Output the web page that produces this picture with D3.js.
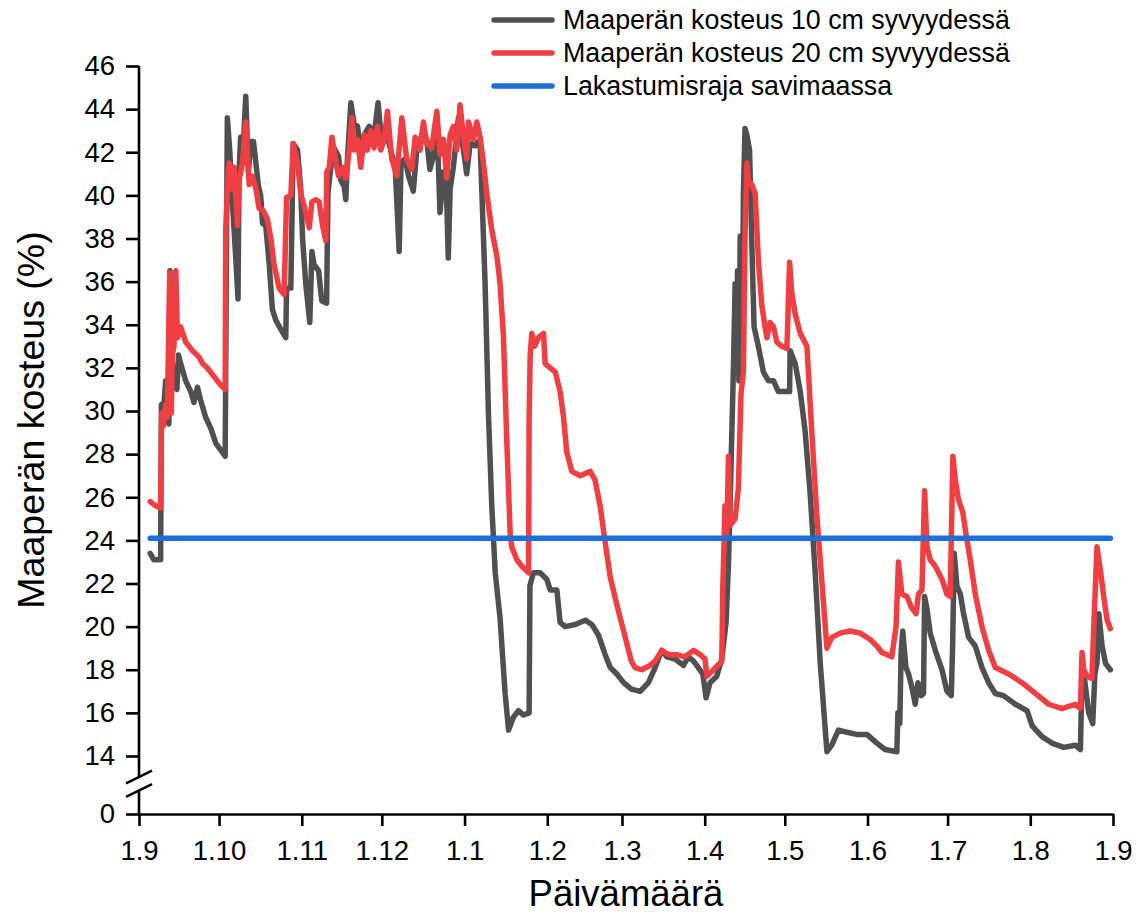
<!DOCTYPE html>
<html lang="fi">
<head>
<meta charset="utf-8">
<script src="https://cdn.jsdelivr.net/npm/d3@7"></script>
<style>
  html, body { margin: 0; padding: 0; background: #fff; }
  svg { display: block; font-family: "Liberation Sans", Arial, Helvetica, sans-serif; }
</style>
</head>
<body>
<svg id="chart" width="1147" height="921"></svg>
<script>
// Measurement period: 1.9.2022 – 1.9.2023. Times are given as days from the start.
const periodStart = new Date(2022, 8, 1);
const periodEnd = new Date(2023, 8, 1);

// Soil moisture at 10 cm depth (%)
const depth10Days = [4.2,5.6,8.1,8.4,9.4,10,10.6,11.2,11.6,12.1,12.5,13.5,14.2,14.8,15.6,17.5,19.4,20.6,21.9,23.1,25,26.9,28.8,30.6,32.3,32.6,33.1,34,35,36.3,37.1,37.5,38.1,39,40,41,41.9,42.9,43.8,44.8,45.6,46.3,47.5,48.8,50,51.3,53.1,55,55.3,56.9,57.8,59.4,60.6,61.3,62.5,64,64.8,65.6,67.3,68.5,70.3,70.8,71.9,73.1,74.8,75.6,76.9,77.5,78.1,79.4,80.6,81.9,83.1,84.4,86.3,88.1,89.6,90.6,92.5,93.5,96,97.5,98.2,99.7,101,102.8,104.1,106,107.8,109,110.3,111.6,112.8,114.1,115.1,115.9,116.6,117.8,119.7,121.6,122.8,124.1,126,127.8,128.5,129.7,131,132.2,133.5,135.3,137.2,138.5,140.3,142.2,144.1,146.2,146.5,147.8,150.3,152.8,154.1,156.6,157.8,159.7,163.5,167.2,169.7,172.2,174.7,176.6,179.1,181.6,184.5,187.8,190.9,193.4,195.9,197.8,200.9,204,205.9,207.8,209.6,211.3,212.5,214,216.5,218.4,220,220.9,221.5,222.1,222.8,223.4,223.8,224.3,224.8,225.3,225.9,226.5,227.1,227.8,228.8,229.6,230.5,232.1,234,235.9,237.8,239.6,242.1,243.8,244,245.9,247.8,249.6,251.5,253.4,255.3,257.8,259.6,262.1,265.3,269,272.8,276.5,279.6,284,284.4,285.1,285.6,286.2,287.4,288.4,289.6,290.9,291.9,293.1,294,294.4,295.3,296.5,298.4,300.9,302.8,304.4,304.9,305.5,306.5,307.8,309,310.9,313.4,315.9,318.4,320.9,324,328.4,332.8,334.7,338.4,342.1,346.5,350.9,352.8,353.4,354.4,355.9,357.4,358.2,359,359.7,360.9,362.2,364];
const depth10Values = [23.4,23.1,23.1,30.3,30.4,31.4,29.6,29.4,36.5,32.6,32.2,31.1,31.0,32.6,32.2,31.4,30.9,30.4,31.1,30.5,29.7,29.2,28.5,28.2,27.9,33.9,43.6,42.1,39.7,37.0,35.2,41.1,42.7,42.1,44.6,41.1,42.5,42.5,41.5,40.4,40.0,38.7,38.6,36.8,34.7,34.2,33.8,33.4,35.7,35.7,42.4,42.1,40.3,38.0,35.9,34.1,37.4,36.8,36.5,35.1,35.0,40.1,41.3,42.2,41.8,40.7,40.4,39.8,41.7,44.3,43.3,43.2,41.9,42.8,43.2,42.8,44.3,42.9,42.6,42.5,41.3,37.4,41.5,41.7,40.9,40.2,42.1,42.8,42.6,41.2,41.8,43.6,39.2,41.1,40.7,37.1,40.3,41.3,43.6,42.1,41.0,42.4,42.3,42.6,40.1,35.9,29.7,25.6,22.5,20.4,16.9,15.2,15.8,16.1,15.9,16.0,21.9,22.5,22.5,22.2,21.7,21.7,20.2,20.0,20.1,20.3,20.1,19.6,18.7,18.1,17.8,17.4,17.1,17.0,17.4,18.1,18.9,18.6,18.5,18.2,18.6,18.4,18.1,17.8,16.7,17.4,17.7,18.5,20.2,22.9,25.6,28.7,32.2,35.9,31.8,36.5,31.4,38.1,31.8,40.1,43.1,42.8,42.1,38.0,33.9,33.0,31.8,31.4,31.4,30.9,30.9,30.9,32.8,32.2,30.9,29.1,26.2,22.5,18.3,14.2,14.5,15.2,15.1,15.0,15.0,14.6,14.3,14.2,16.0,15.5,18.8,19.8,18.1,17.8,17.2,16.4,17.4,16.8,16.9,21.4,20.8,19.7,18.9,18.0,17.0,16.8,19.1,23.4,21.9,21.5,20.6,19.5,19.1,18.1,17.4,16.9,16.8,16.4,16.1,15.4,14.9,14.6,14.4,14.5,14.3,18.0,17.5,16.0,15.5,17.8,18.3,20.6,19.1,18.3,18.0];

// Soil moisture at 20 cm depth (%)
const depth20Days = [4.2,6.3,8.1,8.5,9.1,10,10.6,11.5,12.1,12.5,13.1,13.8,14.4,15.6,17.5,20,22.5,23.8,25.6,28.1,30.6,32.3,32.5,33.1,33.8,34.4,35.6,36.9,37.5,38.8,40,41.3,42.5,43.8,45,46.5,48.1,49.4,50.6,52.5,54.4,55.3,56.9,57.8,59.4,60.6,61.9,63.8,64.8,66.3,67.5,68.8,70,70.4,71.3,72.3,73.8,74.8,76.3,77.5,78.8,79.8,80.6,81.9,83.1,84.4,85.6,86.9,88.1,89.4,90.6,91.9,93.1,94.7,96.6,98.5,100.3,102.2,103.5,105.3,106.6,107.8,109.7,111.6,112.8,114.1,115.3,116.6,117.8,119.1,120.3,121.6,122.8,123.5,125.3,126.6,127.8,129.1,130.3,132.2,134.1,135.3,136.6,137.8,139.1,139.7,141.6,143.5,146,146.2,146.6,147.2,148.2,149.7,151.6,152.2,154.1,156,157.8,159.1,160.3,162.2,165.3,169.1,170.9,172.8,174.7,176.6,179.1,181.6,184.5,185.9,188.4,191.5,193.4,195.9,198.4,201.5,204.6,207.8,210.3,212.1,212.8,215.3,218.4,218.8,219.6,220.3,220.9,221.5,223.4,224.6,225.6,226.5,227.1,227.8,228.4,229.6,230.9,232.1,233.4,234.6,235.3,236.5,237.8,239,240.9,242.8,243.8,244.6,245.9,247.8,250.3,252.1,254,255.9,257.8,259.6,262.8,266.5,270.3,274,276.5,278.4,282.1,283.7,284.6,285.9,287.8,289.4,291.2,292.1,293.4,294.4,295.3,296.5,298.4,300.9,302.8,304,304.4,305,305.9,307.1,308.7,309.9,311.5,313.4,315.9,318.4,320.9,325.9,330.9,335.9,340.9,345.9,350.9,352.8,353.4,354,355.3,357.1,357.8,359,360.3,361.5,362.8,364];
const depth20Values = [25.8,25.6,25.5,29.9,29.3,30.3,29.7,36.4,29.9,32.6,33.0,36.5,33.4,33.9,33.2,32.8,32.5,32.2,32.0,31.6,31.2,31.0,38.4,40.3,41.5,40.3,41.3,38.6,40.7,41.5,43.4,40.5,40.9,40.3,39.4,39.3,38.9,38.0,36.8,35.7,35.4,39.9,40.0,42.4,41.5,40.1,39.5,38.5,39.7,39.8,39.7,38.6,37.9,41.1,41.3,42.7,41.5,40.9,41.3,40.8,42.1,43.6,42.1,42.6,41.3,42.8,42.1,43.0,42.2,43.2,42.1,42.6,43.9,41.7,40.9,43.6,41.7,41.2,42.7,42.1,43.4,42.4,42.2,43.9,41.9,42.6,40.8,42.8,43.2,42.1,44.2,42.7,41.7,43.4,42.6,43.4,42.7,41.5,40.1,38.4,37.2,35.9,33.4,28.7,24.3,23.7,23.1,22.8,22.5,29.7,32.6,33.6,33.0,33.4,33.6,32.2,32.0,31.8,30.9,29.7,28.1,27.2,27.0,27.2,26.8,25.6,23.9,22.3,21.0,19.8,18.4,18.1,18.0,18.2,18.4,18.9,18.7,18.7,18.6,18.9,18.7,18.5,17.7,18.0,18.4,21.9,25.6,24.3,27.9,24.7,25.0,26.4,30.8,31.8,38.0,41.5,40.7,40.5,40.1,37.0,34.9,33.9,33.4,34.1,33.9,33.2,33.0,32.9,36.9,35.5,34.5,33.6,33.0,29.1,25.2,22.1,19.0,19.5,19.7,19.8,19.7,19.4,19.1,18.8,18.6,20.0,23.0,21.5,21.4,20.9,20.6,21.5,21.7,26.3,23.7,23.1,22.8,22.2,21.5,21.4,24.0,27.9,26.8,25.9,25.3,24.3,23.1,21.5,20.0,18.9,18.1,17.8,17.4,16.9,16.4,16.2,16.4,16.2,18.8,18.0,17.7,17.6,20.0,23.7,22.6,21.4,20.3,19.9];

// Wilting point in clay soil (%)
const wiltingDays = [4.2, 364];
const wiltingValues = [24.1, 24.1];

const yTickValues = d3.range(14, 47, 2);
const monthTicks = d3.timeMonth.range(periodStart, d3.timeDay.offset(periodEnd, 1));

const seriesNames = [
  "Maaperän kosteus 10 cm syvyydessä",
  "Maaperän kosteus 20 cm syvyydessä",
  "Lakastumisraja savimaassa"
];
const seriesColors = ["#505050", "#ef3f42", "#1f6fdb"];

// ---- layout ----
const svg = d3.select("#chart");
const plotLeft = 139, plotRight = 1113, plotTop = 66;
const plotBottom = 814;      // baseline of the broken axis (value 0)
const lowestShown = 14;

const x = d3.scaleTime().domain([periodStart, periodEnd]).range([plotLeft, plotRight]);
const y = d3.scaleLinear().domain([lowestShown, 46]).range([756, plotTop]);
const yZero = d3.scaleLinear().domain([0, 1]).range([plotBottom, plotBottom - 40]);

const toDate = d => new Date(periodStart.getTime() + d * 864e5);
const pairs = (days, vals) => days.map((d, i) => ({ date: toDate(d), value: vals[i] }));

const line = d3.line().x(p => x(p.date)).y(p => y(p.value));

const axisColor = "#000";
const axisWidth = 2.6;
const tickFont = 27.5;

// ---- y axis (upper part) ----
const yAxis = svg.append("g")
  .attr("transform", `translate(${plotLeft},0)`)
  .call(d3.axisLeft(y).tickValues(yTickValues).tickSize(13).tickPadding(11).tickSizeOuter(0));
yAxis.select(".domain").remove();

// ---- y axis zero tick ----
const yAxis0 = svg.append("g")
  .attr("transform", `translate(${plotLeft},0)`)
  .call(d3.axisLeft(yZero).tickValues([0]).tickFormat(d3.format("d"))
    .tickSize(13).tickPadding(11).tickSizeOuter(0));
yAxis0.select(".domain").remove();

// axis line with a break between 0 and the lowest shown value
const breakUpper = y(lowestShown) + 21;
const breakLower = breakUpper + 13.5;
svg.append("line").attr("x1", plotLeft).attr("x2", plotLeft)
  .attr("y1", y(46)).attr("y2", breakUpper)
  .attr("stroke", axisColor).attr("stroke-width", axisWidth);
svg.append("line").attr("x1", plotLeft).attr("x2", plotLeft)
  .attr("y1", breakLower).attr("y2", plotBottom)
  .attr("stroke", axisColor).attr("stroke-width", axisWidth);
[breakUpper, breakLower].forEach(cy => {
  svg.append("line")
    .attr("x1", plotLeft - 13).attr("y1", cy + 6.3)
    .attr("x2", plotLeft + 13).attr("y2", cy - 6.3)
    .attr("stroke", axisColor).attr("stroke-width", axisWidth);
});

// ---- x axis ----
const xAxis = svg.append("g")
  .attr("transform", `translate(0,${plotBottom})`)
  .call(d3.axisBottom(x).tickValues(monthTicks).tickFormat(d3.timeFormat("%-d.%-m"))
    .tickSize(12).tickPadding(14).tickSizeOuter(0));

[yAxis, yAxis0, xAxis].forEach(g => {
  g.selectAll("line").attr("stroke", axisColor).attr("stroke-width", axisWidth);
  g.selectAll(".domain").attr("stroke", axisColor).attr("stroke-width", axisWidth);
  g.selectAll("text").attr("fill", "#000").style("font-size", tickFont + "px")
    .style("font-family", '"Liberation Sans", Arial, sans-serif');
});

// ---- axis titles ----
svg.append("text")
  .attr("transform", `translate(44,${(plotTop + plotBottom) / 2 - 20}) rotate(-90)`)
  .attr("text-anchor", "middle")
  .style("font-size", "37.5px")
  .text("Maaperän kosteus (%)");

svg.append("text")
  .attr("x", (plotLeft + plotRight) / 2)
  .attr("y", 906)
  .attr("text-anchor", "middle")
  .style("font-size", "36.5px")
  .text("Päivämäärä");

// ---- series ----
const plot = svg.append("g")
  .attr("fill", "none")
  .attr("stroke-width", 5.5)
  .attr("stroke-linejoin", "round")
  .attr("stroke-linecap", "round");

plot.append("path").datum(pairs(depth10Days, depth10Values))
  .attr("stroke", seriesColors[0]).attr("d", line);
plot.append("path").datum(pairs(depth20Days, depth20Values))
  .attr("stroke", seriesColors[1]).attr("d", line);
plot.append("path").datum(pairs(wiltingDays, wiltingValues))
  .attr("stroke", seriesColors[2]).attr("d", line);

// ---- legend ----
const legend = svg.append("g").attr("transform", "translate(494,20)");
seriesNames.forEach((name, i) => {
  const row = legend.append("g").attr("transform", `translate(0,${i * 33})`);
  row.append("line").attr("x1", 0).attr("x2", 58).attr("y1", 0).attr("y2", 0)
    .attr("stroke", seriesColors[i]).attr("stroke-width", 5.5).attr("stroke-linecap", "round");
  row.append("text").attr("x", 69).attr("y", 0).attr("dy", "0.35em")
    .style("font-size", "26.8px").text(name);
});
</script>
</body>
</html>
